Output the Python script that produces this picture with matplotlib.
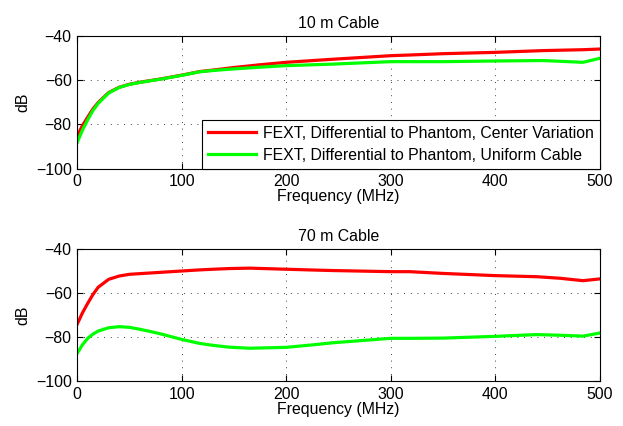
import matplotlib.pyplot as plt

plt.rcParams['font.family'] = ['Liberation Sans', 'DejaVu Sans']

# 10 m cable
freq_10 = [0, 5, 10, 15, 20, 30, 40, 50, 60, 80, 100, 117, 130, 149, 175,
           200, 245, 300, 318, 350, 400, 446, 484, 500]
center_10 = [-85.1, -80.5, -76.7, -73.0, -70.1, -65.6, -63.2, -61.8, -60.9, -59.4,
             -57.7, -56.1, -55.4, -54.3, -53.0, -51.9, -50.5, -48.9, -48.6, -48.0,
             -47.4, -46.6, -46.2, -45.9]
uniform_10 = [-88.1, -82.5, -77.9, -73.7, -70.5, -65.8, -63.3, -61.9, -61.0, -59.5,
              -57.8, -56.2, -55.6, -54.9, -54.1, -53.4, -52.7, -51.6, -51.6, -51.6,
              -51.3, -51.1, -51.9, -50.1]

# 70 m cable
freq_70 = [0, 5, 10, 15, 20, 30, 40, 50, 60, 70, 80, 100, 117, 130, 145, 165, 200,
           229, 245, 300, 318, 350, 400, 440, 462, 484, 500]
center_70 = [-74.1, -69.0, -64.7, -60.7, -57.4, -53.8, -52.3, -51.5, -51.2, -50.9,
             -50.6, -50.0, -49.5, -49.2, -48.9, -48.7, -49.2, -49.6, -49.8, -50.3, -50.3,
             -51.1, -52.1, -52.6, -53.3, -54.4, -53.6]
uniform_70 = [-87.4, -83.5, -80.6, -78.7, -77.3, -75.8, -75.3, -75.6, -76.5, -77.5,
              -78.6, -81.1, -82.9, -83.8, -84.6, -85.1, -84.7, -83.4, -82.6, -80.6, -80.6,
              -80.5, -79.7, -78.9, -79.2, -79.6, -78.2]

labels = ['FEXT, Differential to Phantom, Center Variation',
          'FEXT, Differential to Phantom, Uniform Cable']
titles = ['10 m Cable', '70 m Cable']
fs = 11.4

fig = plt.figure(figsize=(6.23, 4.26), dpi=100)
ax1 = fig.add_axes([0.124, 0.604, 0.8386, 0.3115])
ax2 = fig.add_axes([0.124, 0.1056, 0.8386, 0.3099])

panels = [(ax1, freq_10, center_10, uniform_10), (ax2, freq_70, center_70, uniform_70)]
for ax, f, red, green in panels:
    ax.plot(f, red, color='#ff0000', linewidth=2.3, label=labels[0])
    ax.plot(f, green, color='#00ff00', linewidth=2.3, label=labels[1])
    ax.set_xlim(0, 500)
    ax.set_ylim(-100, -40)
    ax.set_xticks([0, 100, 200, 300, 400, 500])
    ax.set_yticks([-100, -80, -60, -40])
    ax.grid(True, linestyle=(0, (1, 7)), color='black', linewidth=0.6)
    ax.tick_params(direction='in', top=True, right=True, length=4, labelsize=fs, pad=4)
    ax.set_xlabel('Frequency (MHz)', fontsize=fs, labelpad=0)
    ax.set_ylabel('dB', fontsize=fs, labelpad=4)
    for s in ax.spines.values():
        s.set_linewidth(0.8)

ax1.set_title(titles[0], fontsize=fs, pad=6)
ax2.set_title(titles[1], fontsize=fs, pad=6)

leg = ax1.legend(loc='lower right', fontsize=fs, fancybox=False, edgecolor='black',
                 framealpha=1, borderaxespad=0, handlelength=3.05,
                 handletextpad=0.4, labelspacing=0.42, borderpad=0.38)
leg.get_frame().set_linewidth(0.8)

fig.savefig('out.png', dpi=100)
